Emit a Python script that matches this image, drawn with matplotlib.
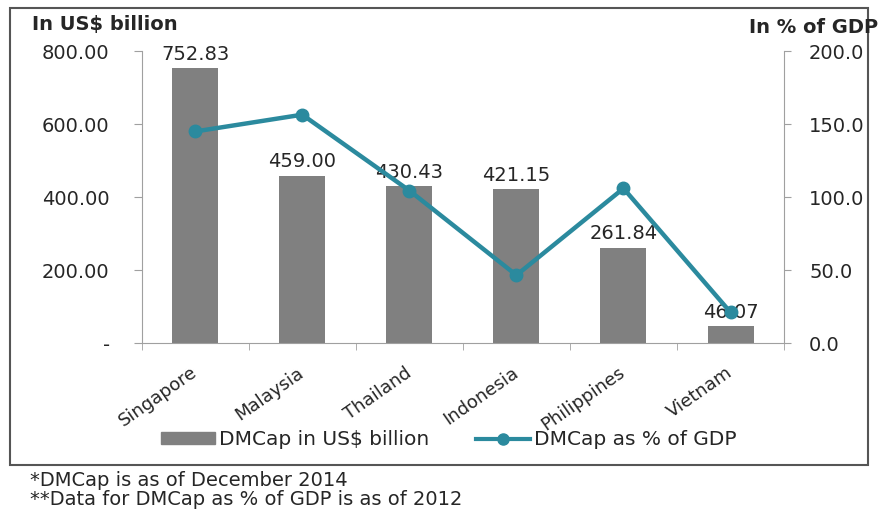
import numpy as np
import matplotlib.pyplot as plt
from matplotlib.patches import Rectangle, Patch
from matplotlib.lines import Line2D

countries = ["Singapore", "Malaysia", "Thailand", "Indonesia", "Philippines", "Vietnam"]
dmcap_usd = [752.83, 459.00, 430.43, 421.15, 261.84, 46.07]
dmcap_pct_gdp = [145.0, 156.5, 104.5, 46.5, 106.0, 21.0]

left_ticks = [0, 200, 400, 600, 800]
left_tick_labels = ["-", "200.00", "400.00", "600.00", "800.00"]
right_ticks = [0, 50, 100, 150, 200]
right_tick_labels = ["0.0", "50.0", "100.0", "150.0", "200.0"]

plt.rcParams['font.family'] = ['DejaVu Sans']

BAR = "#808080"
LINE = "#2b8a9e"
TXT = "#262626"
AXIS = "#a0a0a0"

fig = plt.figure(figsize=(8.8, 5.12), dpi=100)
ax = fig.add_axes([0.161, 0.330, 0.730, 0.570])
x = np.arange(len(countries))

# bars: market cap in US$ bn, labelled with their values
ax.bar(x, dmcap_usd, width=0.43, color=BAR, zorder=2)
for xi, v in zip(x, dmcap_usd):
    ax.text(xi, v + 12, f"{v:.2f}", ha="center", va="bottom", fontsize=14, color=TXT)

ax.set_xlim(-0.5, len(countries) - 0.5)
ax.set_ylim(0, 800)
ax.set_yticks(left_ticks)
ax.set_yticklabels(left_tick_labels, fontsize=14, color=TXT)
ax.set_xticks(x)
ax.set_xticklabels(countries, rotation=35, ha="right", va="center",
                   rotation_mode="anchor", fontsize=13, color=TXT)
ax.tick_params(axis="x", length=0, pad=20)
ax.set_xticks(np.arange(-0.5, len(countries)), minor=True)
ax.tick_params(axis="x", which="minor", length=5, color=AXIS)
ax.tick_params(axis="y", length=6, color=AXIS, pad=17)
for s in ["top", "right"]:
    ax.spines[s].set_visible(False)
for s in ["left", "bottom"]:
    ax.spines[s].set_color(AXIS)

# line: market cap as % of GDP on the secondary axis
ax2 = ax.twinx()
ax2.plot(x, dmcap_pct_gdp, color=LINE, lw=3.2, marker="o", ms=9, zorder=3)
ax2.set_ylim(0, 200)
ax2.set_yticks(right_ticks)
ax2.set_yticklabels(right_tick_labels, fontsize=14, color=TXT)
ax2.tick_params(axis="y", length=5, color=AXIS, pad=13)
for s in ["top", "left", "bottom"]:
    ax2.spines[s].set_visible(False)
ax2.spines["right"].set_color(AXIS)

fig.text(0.036, 0.953, "In US$ billion", fontsize=14, fontweight="bold", color=TXT, va="center")
fig.text(0.998, 0.947, "In % of GDP", fontsize=14, fontweight="bold", color=TXT, va="center", ha="right")

handles = [Patch(color=BAR), Line2D([], [], color=LINE, lw=3, marker="o", ms=8)]
fig.legend(handles, ["DMCap in US$ billion", "DMCap as % of GDP"], loc="center",
           bbox_to_anchor=(0.51, 0.141), ncol=2, frameon=False, fontsize=14.5,
           handlelength=2.7, handleheight=0.5, handletextpad=0.2, columnspacing=2.3,
           labelcolor=TXT)

fig.add_artist(Rectangle((0.011, 0.092), 0.975, 0.893, transform=fig.transFigure,
                         fill=False, edgecolor="#555555", lw=1.5))

fig.text(0.034, 0.062, "*DMCap is as of December 2014", fontsize=14, color=TXT, va="center")
fig.text(0.034, 0.025, "**Data for DMCap as % of GDP is as of 2012", fontsize=14, color=TXT, va="center")

fig.savefig("out.png", dpi=100)
